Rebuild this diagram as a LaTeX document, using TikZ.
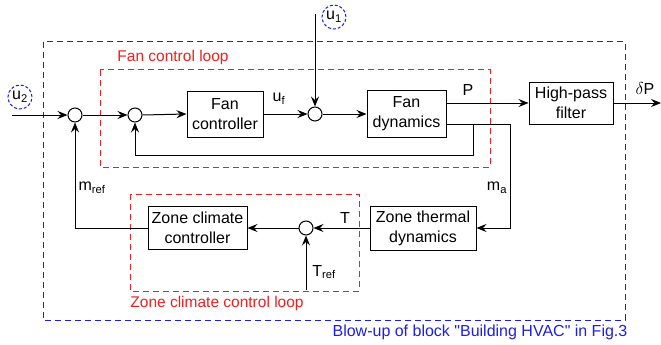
\documentclass[tikz,border=0pt]{standalone}
\usepackage{fontspec}
\setmainfont{Liberation Sans}[Ligatures=TeXOff]
\usetikzlibrary{arrows.meta,calc}
\definecolor{loopred}{RGB}{240,30,30}
\definecolor{hvacblue}{RGB}{30,30,230}
\begin{document}
\begin{tikzpicture}[x=1pt,y=-1pt,
  font=\fontsize{16}{20}\selectfont,
  blk/.style={draw, line width=1pt, inner sep=0pt, align=center},
  sumnode/.style={draw, circle, minimum size=14pt, inner sep=0pt, line width=1pt},
  arr/.style={-{Stealth[length=10pt,width=8pt,inset=3.5pt]}, line width=1pt},
  ln/.style={line width=1pt},
  redbox/.style={draw=loopred, dash pattern=on 6pt off 4pt, line width=1pt},
  bluebox/.style={draw=hvacblue, dash pattern=on 6pt off 4pt, line width=1pt},
  inputc/.style={circle, draw=hvacblue, dash pattern=on 3pt off 2pt, line width=1pt, minimum size=24pt, inner sep=0pt},
  lbl/.style={inner sep=0pt}
]
\useasboundingbox (0,0) rectangle (661,345);

% dashed regions
\draw[bluebox] (43,42) rectangle (625,320);
\draw[redbox] (100,70) rectangle (490,167);
\draw[redbox] (130,194) rectangle (359,291);
\node[lbl, text=loopred, font=\fontsize{15.5}{18}\selectfont] (fanlooplbl) at (173,57) {Fan control loop};
\node[lbl, text=loopred, font=\fontsize{15.5}{18}\selectfont] (zonelooplbl) at (217,303) {Zone climate control loop};
\node[lbl, text=hvacblue] (hvaclbl) at (480,332) {Blow-up of block "Building HVAC" in Fig.3};

% inputs
\node[inputc] (u2) at (20,97) {u\textsubscript{2}};
\node[inputc] (u1) at (334,17) {u\textsubscript{1}};

% summing junctions
\node[sumnode] (s1) at (75,115) {};
\node[sumnode] (s2) at (135,115) {};
\node[sumnode] (s3) at (315,114) {};
\node[sumnode] (s4) at (306,228) {};

% blocks
\node[blk, minimum width=76pt, minimum height=46pt] (fc) at (225,114) {Fan\\controller};
\node[blk, minimum width=79pt, minimum height=47pt] (fd) at (406.5,114) {Fan\\dynamics};
\node[blk, minimum width=84pt, minimum height=42pt] (hp) at (571,103) {High-pass\\filter};
\node[blk, minimum width=106pt, minimum height=44pt] (zt) at (423,228) {Zone thermal\\dynamics};
\node[blk, minimum width=99pt, minimum height=43pt] (zc) at (197.5,228) {Zone climate\\controller};

% free ends
\coordinate (u2in) at (12,115);
\coordinate (u1in) at (315,14);
\coordinate (dpout) at (661,103);
\coordinate (trefin) at (306,290);
\coordinate (br) at (473,124);
\coordinate (fbk) at (473,155);
\coordinate (mcorner) at (75,228);

% connectors
\draw[arr] (u2in) -- (s1.west);
\draw[arr] (s1.east) -- (s2.west);
\draw[arr] (s2.east) -- (fc.west);
\draw[arr] (fc.east) -- (s3.west);
\draw[arr] (u1in) -- (s3.north);
\draw[arr] (s3.east) -- (fd.west);
\draw[arr] ([yshift=11pt]fd.east) -- (hp.west);
\draw[arr] (hp.east) -- (dpout);
\draw[arr] ([yshift=-10pt]fd.east) -| ($(zt.east)+(34,0)$) -- (zt.east);
\draw[arr] (br) -- (fbk) -| (s2.south);
\draw[arr] (zt.west) -- (s4.east);
\draw[arr] (trefin) -- (s4.south);
\draw[arr] (s4.west) -- (zc.east);
\draw[arr] (zc.west) -- (mcorner) -- (s1.south);

% signal labels
\node[lbl] (uflbl) at (279,99) {u\textsubscript{f}};
\node[lbl] (plbl) at (468,90) {P};
\node[lbl] (dplbl) at (645,88) {$\delta$P};
\node[lbl] (malbl) at (497,188) {m\textsubscript{a}};
\node[lbl] (tlbl) at (345,218) {T};
\node[lbl] (treflbl) at (324,272) {T\textsubscript{ref}};
\node[lbl] (mreflbl) at (92,188) {m\textsubscript{ref}};
\end{tikzpicture}
\end{document}
